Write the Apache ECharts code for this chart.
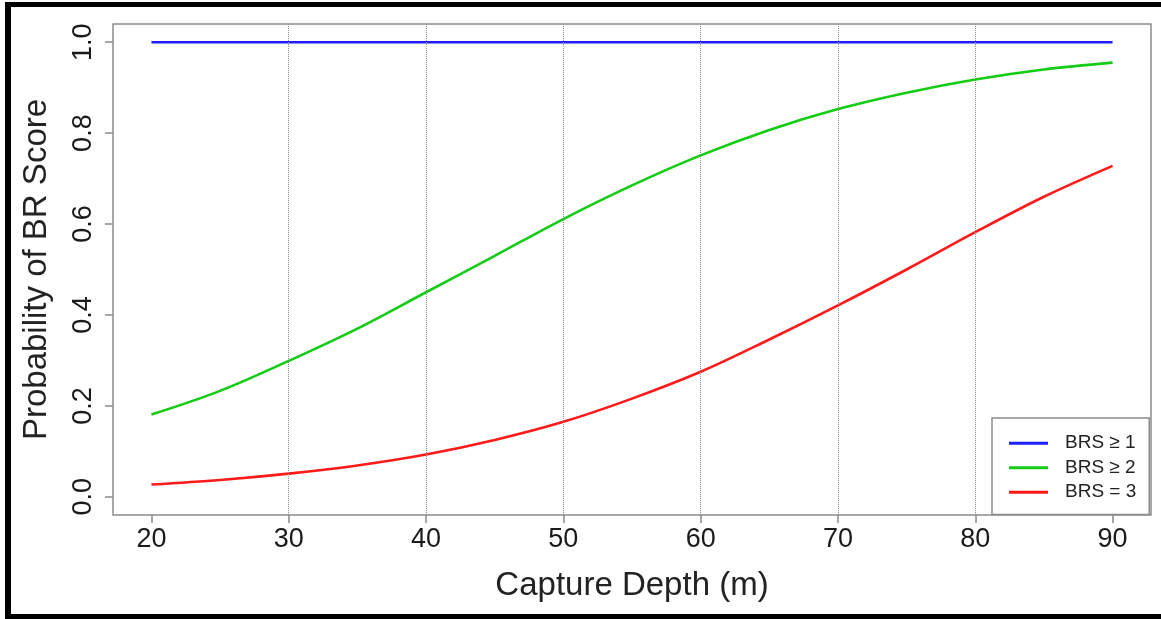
<!DOCTYPE html>
<html>
<head>
<meta charset="utf-8">
<script src="https://cdn.jsdelivr.net/npm/echarts@6/dist/echarts.min.js"></script>
<style>
html,body{margin:0;padding:0;background:#fff;}
#chart{position:absolute;left:0;top:0;width:1161px;height:619px;}
#frame{position:absolute;left:5px;top:2px;width:1170px;height:607px;border-left:6px solid #000;border-top:5px solid #000;border-bottom:5px solid #000;pointer-events:none;}
</style>
</head>
<body>
<div id="chart"></div>
<div id="frame"></div>
<script>
// Capture depth (m)
const depths = [20, 25, 30, 35, 40, 45, 50, 55, 60, 65, 70, 75, 80, 85, 90];
// Probability curves
const brs1 = [1, 1, 1, 1, 1, 1, 1, 1, 1, 1, 1, 1, 1, 1, 1];
const brs2 = [0.181, 0.233, 0.299, 0.370, 0.450, 0.530, 0.611, 0.685, 0.751, 0.807, 0.853, 0.889, 0.918, 0.940, 0.955];
const brs3 = [0.027, 0.037, 0.051, 0.069, 0.093, 0.125, 0.165, 0.216, 0.275, 0.346, 0.421, 0.500, 0.582, 0.660, 0.728];
const seriesNames = ['BRS \u2265 1', 'BRS \u2265 2', 'BRS = 3'];
const xTicks = [20, 30, 40, 50, 60, 70, 80, 90];
const yTicks = [0, 0.2, 0.4, 0.6, 0.8, 1.0];
const gridX = [30, 40, 50, 60, 70, 80];

const FONT = '"Liberation Sans", Arial, Helvetica, sans-serif';
const pair = (ys) => depths.map((d, i) => [d, ys[i]]);

const chart = echarts.init(document.getElementById('chart'), null, {renderer: 'canvas'});
chart.setOption({
  animation: false,
  backgroundColor: '#fff',
  grid: {
    left: 113, right: 10, top: 24, bottom: 104,
    show: true, borderColor: '#8c8c8c', borderWidth: 1.5, backgroundColor: 'transparent'
  },
  xAxis: {
    type: 'value', min: 17.2, max: 92.8,
    name: 'Capture Depth (m)', nameLocation: 'middle', nameGap: 54,
    nameTextStyle: {fontFamily: FONT, fontSize: 33, color: '#222'},
    axisLine: {show: false, onZero: false},
    axisTick: {show: true, inside: false, length: 8, lineStyle: {color: '#8c8c8c', width: 1.5}, customValues: xTicks},
    axisLabel: {show: true, fontFamily: FONT, fontSize: 27, color: '#1a1a1a', margin: 11, customValues: xTicks,
      formatter: v => String(v)},
    splitLine: {show: false}
  },
  yAxis: {
    type: 'value', min: -0.04, max: 1.04,
    name: 'Probability of BR Score', nameLocation: 'middle', nameGap: 60,
    nameTextStyle: {fontFamily: FONT, fontSize: 33, color: '#222'},
    axisLine: {show: false, onZero: false},
    axisTick: {show: true, inside: false, length: 8, lineStyle: {color: '#8c8c8c', width: 1.5}, customValues: yTicks},
    axisLabel: {show: true, fontFamily: FONT, fontSize: 27, color: '#1a1a1a', margin: 16, rotate: 90,
      customValues: yTicks, formatter: v => v.toFixed(1)},
    splitLine: {show: false}
  },
  legend: {
    data: seriesNames,
    orient: 'vertical',
    left: 992, top: 418,
    padding: [15, 13, 12, 17],
    itemGap: 4,
    itemWidth: 39, itemHeight: 3,
    icon: 'rect',
    backgroundColor: '#fff',
    borderColor: '#8c8c8c', borderWidth: 1.5, borderRadius: 0,
    textStyle: {fontFamily: FONT, fontSize: 19, color: '#222', lineHeight: 20.5, padding: [0, 0, 0, 12]}
  },
  series: [
    {
      type: 'line', name: '_grid', data: [], z: 1, silent: true,
      markLine: {
        silent: true, symbol: ['none', 'none'], animation: false,
        label: {show: false},
        lineStyle: {type: 'dotted', color: '#8a8a8a', width: 1},
        data: gridX.map(v => ({xAxis: v}))
      }
    },
    {type: 'line', name: seriesNames[0], data: pair(brs1), showSymbol: false, smooth: 0.35, z: 3,
      lineStyle: {color: '#1f1fff', width: 2.6}, itemStyle: {color: '#1f1fff'}},
    {type: 'line', name: seriesNames[1], data: pair(brs2), showSymbol: false, smooth: 0.35, z: 3,
      lineStyle: {color: '#14cc14', width: 2.6}, itemStyle: {color: '#14cc14'}},
    {type: 'line', name: seriesNames[2], data: pair(brs3), showSymbol: false, smooth: 0.35, z: 3,
      lineStyle: {color: '#ff1a1a', width: 2.6}, itemStyle: {color: '#ff1a1a'}}
  ]
});
</script>
</body>
</html>
